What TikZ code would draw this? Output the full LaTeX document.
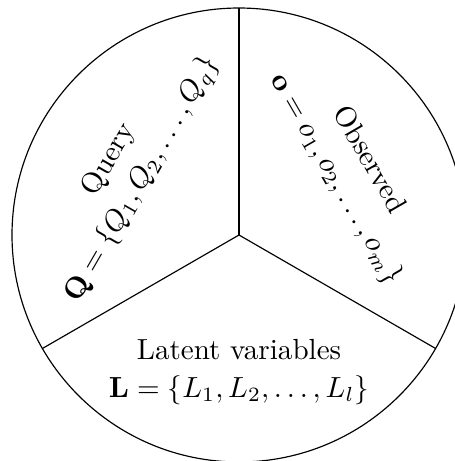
\documentclass[tikz,border=0pt]{standalone}
\usepackage{amsmath}
\usetikzlibrary{calc}
\tikzset{
  sector/.style={draw=black, line width=0.4pt},
  lbl/.style={align=center, inner sep=0pt}
}
\begin{document}
\begin{tikzpicture}[x=0.3436pt,y=0.3436pt]
\useasboundingbox (0,0) rectangle (455,461);
\coordinate (C) at (239,226);
\draw[sector] (C) circle[radius=227];
\coordinate (T) at ($(C)+(90:227)$);
\coordinate (BL) at ($(C)+(210:227)$);
\coordinate (BR) at ($(C)+(-30:227)$);
\draw[sector] (C) -- (T);
\draw[sector] (C) -- (BL);
\draw[sector] (C) -- (BR);
\node[lbl, rotate=60] (q) at ($(C)+(150:130)$) {Query\\[1pt] $\mathbf{Q}=\{Q_1,Q_2,\ldots,Q_q\}$};
\node[lbl, rotate=-60] (o) at ($(C)+(30:130)$) {Observed\\[1pt] $\mathbf{o}=o_1,o_2,\ldots,o_m\}$};
\node[lbl] (l) at ($(C)+(270:137)$) {Latent variables\\[1pt] $\mathbf{L}=\{L_1,L_2,\ldots,L_l\}$};
\end{tikzpicture}
\end{document}
